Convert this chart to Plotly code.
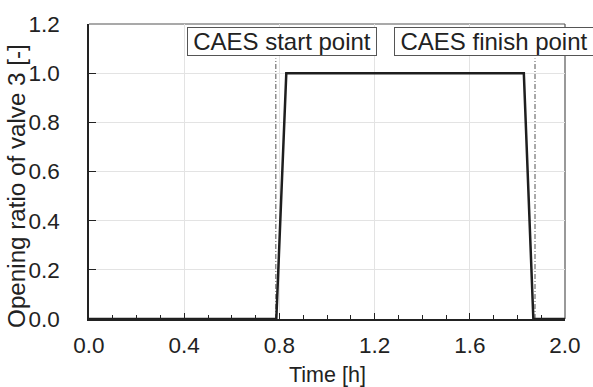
import plotly.graph_objects as go

# Valve 3 opening ratio over time
time_h = [0.0, 0.787, 0.829, 1.827, 1.867, 2.0]
opening = [0.0, 0.0, 1.0, 1.0, 0.0, 0.0]

# CAES start / finish markers
event_times = [0.785, 1.874]
event_labels = ["CAES start point", "CAES finish point"]
event_label_x = [0.411, 1.281]
event_label_w = [188, 198]

x_ticks = [0.0, 0.4, 0.8, 1.2, 1.6, 2.0]
y_ticks = [0.0, 0.2, 0.4, 0.6, 0.8, 1.0, 1.2]

FONT = "Liberation Sans, Arial, sans-serif"
TXT = "#222222"

fig = go.Figure()

for t in event_times:
    fig.add_trace(go.Scatter(
        x=[t, t], y=[0.0, 1.06], mode="lines",
        line=dict(color="#555555", width=1, dash="5px,2px,1px,2px"),
        hoverinfo="skip", showlegend=False,
    ))

fig.add_trace(go.Scatter(
    x=time_h, y=opening, mode="lines",
    line=dict(color="#1e1e1e", width=2.5),
    showlegend=False, cliponaxis=False,
))

for lx, lab, w in zip(event_label_x, event_labels, event_label_w):
    fig.add_annotation(
        x=lx, y=1.2, xref="x", yref="y", xanchor="left", yanchor="middle",
        yshift=-17, text=lab, showarrow=False, width=w, align="center",
        font=dict(family=FONT, size=24, color=TXT),
        bgcolor="white", bordercolor="#555555", borderwidth=1, borderpad=0,
    )

# axis titles
fig.add_annotation(
    x=0.5, y=-0.19, xref="paper", yref="paper", xanchor="center", yanchor="middle",
    text="Time [h]", showarrow=False, font=dict(family=FONT, size=21.5, color=TXT),
)
fig.add_annotation(
    x=-0.152, y=0.45, xref="paper", yref="paper", xanchor="center", yanchor="middle",
    text="Opening ratio of valve 3 [-]", textangle=-90, showarrow=False,
    font=dict(family=FONT, size=24.2, color=TXT),
)

# top and right frame lines
fig.add_shape(type="line", xref="paper", yref="paper", x0=0, x1=1, y0=1, y1=1,
              line=dict(color="#555555", width=1.2), layer="below")
fig.add_shape(type="line", xref="paper", yref="paper", x0=1, x1=1, y0=0, y1=1,
              line=dict(color="#555555", width=1.2), layer="below")

fig.update_layout(
    width=593, height=387,
    margin=dict(l=89, r=24, t=20, b=68),
    paper_bgcolor="white", plot_bgcolor="white",
    font=dict(family=FONT, size=22, color=TXT),
    xaxis=dict(
        range=[0, 2.0], tickvals=x_ticks, ticktext=[f"{v:.1f}" for v in x_ticks],
        ticks="inside", ticklen=6, tickwidth=1.2, tickcolor="#222222",
        minor=dict(dtick=0.1, tick0=0, ticks="inside", ticklen=4, tickwidth=1, tickcolor="#222222", showgrid=False),
        showgrid=True, gridcolor="#e3e3e3", gridwidth=1,
        showline=True, linecolor="#222222", linewidth=1.5,
        zeroline=False, ticklabelstandoff=5,
        tickfont=dict(size=22.5),
    ),
    yaxis=dict(
        range=[0, 1.2], tickvals=y_ticks, ticktext=[f"{v:.1f}" for v in y_ticks],
        ticks="inside", ticklen=7, tickwidth=1.2, tickcolor="#222222",
        showgrid=True, gridcolor="#e3e3e3", gridwidth=1,
        showline=True, linecolor="#222222", linewidth=1.5,
        zeroline=False, ticklabelstandoff=23,
        tickfont=dict(size=22.5),
    ),
)

fig.write_html("out.html")
